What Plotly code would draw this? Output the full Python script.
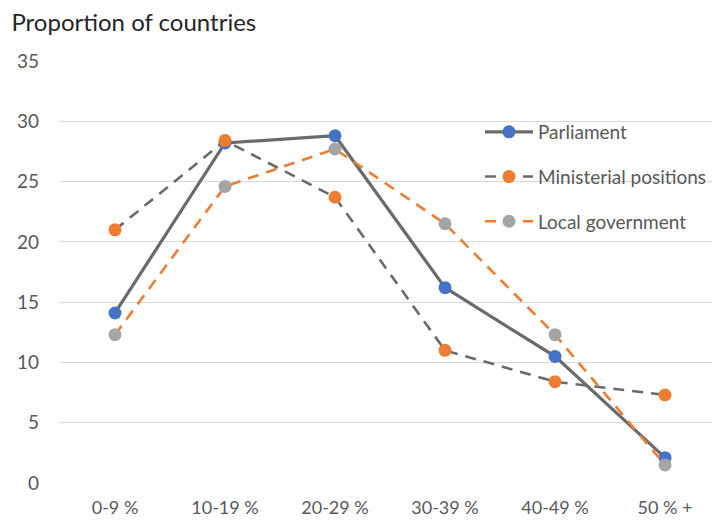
import plotly.graph_objects as go

categories = ["0-9 %", "10-19 %", "20-29 %", "30-39 %", "40-49 %", "50 % +"]
parliament = [14.1, 28.2, 28.8, 16.2, 10.5, 2.1]
ministerial = [21.0, 28.4, 23.7, 11.0, 8.4, 7.3]
local_gov = [12.3, 24.6, 27.7, 21.5, 12.3, 1.5]
y_ticks = [0, 5, 10, 15, 20, 25, 30, 35]

BLUE = "#4472C4"
ORANGE = "#ED7D31"
GRAY = "#A5A5A5"
DARK = "#6A6A6A"
xs = list(range(len(categories)))

fig = go.Figure()
fig.add_trace(go.Scatter(
    x=xs, y=parliament, name="Parliament", mode="lines+markers",
    line=dict(color=DARK, width=3.2),
    marker=dict(color=BLUE, size=13), legendgroup="a"))
fig.add_trace(go.Scatter(
    x=xs, y=ministerial, name="Ministerial positions", mode="lines+markers",
    line=dict(color=DARK, width=2.6, dash="11px,8px"),
    marker=dict(color=ORANGE, size=13), legendgroup="b"))
fig.add_trace(go.Scatter(
    x=xs, y=local_gov, name="Local government", mode="lines+markers",
    line=dict(color=ORANGE, width=2.6, dash="11px,8px"),
    marker=dict(color=GRAY, size=13), legendgroup="c"))

fig.update_layout(
    width=712, height=520,
    margin=dict(l=60, r=0, t=61, b=37, autoexpand=False),
    paper_bgcolor="white", plot_bgcolor="white",
    font=dict(family="Lato, Open Sans, sans-serif", color="#595959", size=18),
    title=dict(text="Proportion of countries", x=0.016, xanchor="left",
               y=1 - 23 / 520, yanchor="middle", yref="container",
               font=dict(size=24, color="#262626")),
    showlegend=True,
    legend=dict(x=(480 - 60) / 652, y=1 - (113 - 61) / 422,
                xanchor="left", yanchor="top", itemwidth=48,
                bgcolor="rgba(255,255,255,0)", tracegroupgap=17,
                font=dict(size=19, color="#595959")),
    xaxis=dict(range=[-0.5, 5.427], tickvals=xs, ticktext=categories,
               showgrid=False, zeroline=False, showline=False, automargin=False,
               ticks="", ticklabelstandoff=12, tickfont=dict(size=18)),
    yaxis=dict(range=[0, 35], tickvals=y_ticks, showgrid=True,
               gridcolor="#D9D9D9", gridwidth=1, zeroline=False,
               showline=False, ticks="", ticklabelstandoff=20, automargin=False,
               tickfont=dict(size=19)),
)

fig.write_html("out.html")
